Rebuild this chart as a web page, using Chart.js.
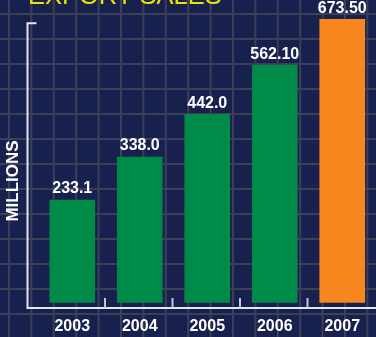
<!DOCTYPE html>
<html><head><meta charset="utf-8">
<script src="https://cdn.jsdelivr.net/npm/chart.js@4"></script>
<style>html,body{margin:0;padding:0;background:#18214e;overflow:hidden}#wrap{width:376px;height:337px;position:relative}</style>
</head><body><div id="wrap"><canvas id="c" width="376" height="337"></canvas></div>
<script>
const categories = ['2003', '2004', '2005', '2006', '2007'];
const values = [233.1, 338.0, 442.0, 562.10, 673.50];
const valueLabels = ['233.1', '338.0', '442.0', '562.10', '673.50'];
const chartTitle = 'EXPORT SALES';
const yTitle = 'MILLIONS';

const Y_MIN = -17, Y_MAX = 664;
const FONT = "'Liberation Sans', Arial, sans-serif";

const deco = {
  id: 'deco',
  beforeDraw(chart) {
    const ctx = chart.ctx, W = chart.width, H = chart.height;
    ctx.save();
    ctx.fillStyle = '#18214e';
    ctx.fillRect(0, 0, W, H);
    ctx.strokeStyle = '#3b3f57';
    ctx.lineWidth = 2;
    ctx.beginPath();
    for (let y = 14; y < H; y += 25) { ctx.moveTo(0, y); ctx.lineTo(W, y); }
    for (let x = 9; x < W; x += 22.4) { ctx.moveTo(x, 0); ctx.lineTo(x, H); }
    ctx.stroke();
    // title (mostly cut off at top)
    ctx.fillStyle = '#ece400';
    ctx.font = "25.5px " + FONT;
    ctx.textAlign = 'left';
    ctx.textBaseline = 'alphabetic';
    ctx.fillText(chartTitle, 28, 4);
    // y title
    ctx.translate(13, 181);
    ctx.rotate(-Math.PI / 2);
    ctx.fillStyle = '#ffffff';
    ctx.font = "bold 17px " + FONT;
    ctx.textAlign = 'center';
    ctx.textBaseline = 'middle';
    ctx.fillText(yTitle, 0, 0);
    ctx.restore();
  },
  beforeDatasetsDraw(chart) {
    const ctx = chart.ctx, a = chart.chartArea, xs = chart.scales.x;
    const axisY = a.bottom + 5.5, axisX = a.left - 11;
    ctx.save();
    ctx.strokeStyle = '#e6e6f2';
    ctx.lineWidth = 2;
    ctx.beginPath();
    ctx.moveTo(axisX + 9, a.top);
    ctx.lineTo(axisX, a.top);
    ctx.lineTo(axisX, axisY);
    ctx.lineTo(chart.width, axisY);
    ctx.stroke();
    ctx.strokeStyle = '#c4c4dc';
    ctx.beginPath();
    for (let i = 1; i < categories.length; i++) {
      const x = (xs.getPixelForValue(i - 1) + xs.getPixelForValue(i)) / 2 - 1;
      ctx.moveTo(x, axisY - 10);
      ctx.lineTo(x, axisY);
    }
    ctx.stroke();
    ctx.restore();
  },
  afterDatasetsDraw(chart) {
    const ctx = chart.ctx;
    const meta = chart.getDatasetMeta(0);
    ctx.save();
    ctx.fillStyle = '#ffffff';
    ctx.font = "bold 16px " + FONT;
    ctx.textAlign = 'center';
    ctx.textBaseline = 'alphabetic';
    meta.data.forEach((bar, i) => {
      ctx.fillText(valueLabels[i], bar.x, bar.y - 6.5);
    });
    ctx.restore();
  }
};

new Chart(document.getElementById('c'), {
  type: 'bar',
  data: {
    labels: categories,
    datasets: [{
      data: values,
      base: Y_MIN,
      barThickness: 45,
      clip: false,
      borderWidth: 0,
      backgroundColor: (c) => c.dataIndex === categories.length - 1 ? '#f7861f' : '#008a48'
    }]
  },
  options: {
    responsive: false,
    animation: false,
    devicePixelRatio: 1,
    layout: { padding: { left: 38.5, right: -2, top: 23.3, bottom: 0 } },
    plugins: { legend: { display: false }, tooltip: { enabled: false }, title: { display: false } },
    scales: {
      x: {
        grid: { display: false },
        border: { display: false },
        ticks: {
          color: '#ffffff',
          font: { family: FONT, size: 16, weight: 'bold' },
          padding: 6.5,
          maxRotation: 0,
          autoSkip: false
        },
        afterFit(s) { s.height = 34.5; }
      },
      y: { display: false, min: Y_MIN, max: Y_MAX }
    }
  },
  plugins: [deco]
});
</script>
</body></html>
